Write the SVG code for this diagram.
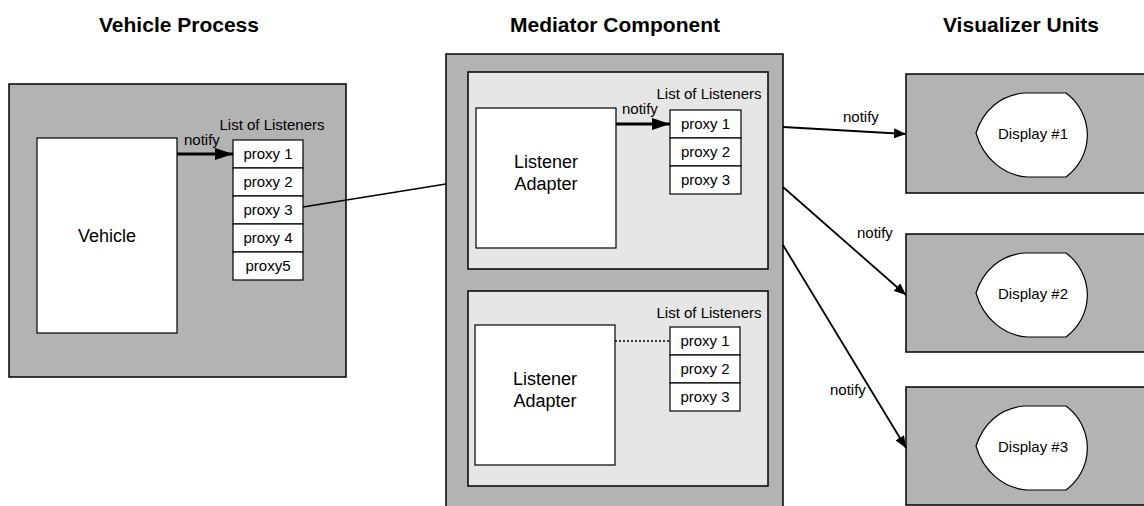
<svg xmlns="http://www.w3.org/2000/svg" width="1144" height="506" viewBox="0 0 1144 506">
<style>
.t{font-family:"Liberation Sans",Arial,sans-serif;fill:#000}
.title{font-size:21px;font-weight:bold;text-anchor:middle}
.s15{font-size:15px}
.s18{font-size:18px;text-anchor:middle}
.c{text-anchor:middle}
.outer{fill:#b3b3b3;stroke:#000;stroke-width:1.5}
.inner{fill:#e6e6e6;stroke:#000;stroke-width:1.5}
.white{fill:#fff;stroke:#000;stroke-width:1.2}
.ln{stroke:#000;fill:none}
</style>
<defs>
<marker id="ah" markerWidth="12" markerHeight="10" refX="12" refY="5" orient="auto" markerUnits="userSpaceOnUse"><path d="M0,0 L12,5 L0,10 Z" fill="#000"/></marker>
<marker id="ahb" markerWidth="18" markerHeight="12" refX="18" refY="6" orient="auto" markerUnits="userSpaceOnUse"><path d="M0,0 L18,6 L0,12 Z" fill="#000"/></marker>
<path id="disp" d="M-9,-40 L33,-40 A52,52 0 0 1 33,44 L-6,44 C-30,42 -50,25 -57,0 C-50,-22 -33,-38 -9,-40 Z"/>
</defs>

<text class="t title" x="179" y="32">Vehicle Process</text>
<text class="t title" x="615" y="32">Mediator Component</text>
<text class="t title" x="1021" y="32">Visualizer Units</text>

<g id="vehicle-process">
<rect class="outer" x="9" y="84" width="337" height="293"/>
<rect class="white" x="37" y="138" width="140" height="195"/>
<text class="t s18" x="107" y="242">Vehicle</text>
<text class="t s15 c" x="272" y="130">List of Listeners</text>
<g id="vp-proxies">
<rect class="white" x="233" y="140" width="70" height="28"/>
<rect class="white" x="233" y="168" width="70" height="28"/>
<rect class="white" x="233" y="196" width="70" height="28"/>
<rect class="white" x="233" y="224" width="70" height="28"/>
<rect class="white" x="233" y="252" width="70" height="28"/>
<text class="t s15 c" x="268" y="159">proxy 1</text>
<text class="t s15 c" x="268" y="187">proxy 2</text>
<text class="t s15 c" x="268" y="215">proxy 3</text>
<text class="t s15 c" x="268" y="243">proxy 4</text>
<text class="t s15 c" x="268" y="271">proxy5</text>
</g>
</g>

<g id="mediator">
<rect class="outer" x="446" y="54" width="337" height="460"/>
<g id="mediator-top">
<rect class="inner" x="468" y="72" width="300" height="197"/>
<rect class="white" x="476" y="108" width="140" height="140"/>
<text class="t s18" x="546" y="168">Listener</text>
<text class="t s18" x="546" y="190">Adapter</text>
<text class="t s15 c" x="709" y="99">List of Listeners</text>
<rect class="white" x="670" y="110" width="71" height="28"/>
<rect class="white" x="670" y="138" width="71" height="28"/>
<rect class="white" x="670" y="166" width="71" height="28"/>
<text class="t s15 c" x="705.5" y="129">proxy 1</text>
<text class="t s15 c" x="705.5" y="157">proxy 2</text>
<text class="t s15 c" x="705.5" y="185">proxy 3</text>
</g>
<g id="mediator-bottom">
<rect class="inner" x="468" y="291" width="300" height="195"/>
<rect class="white" x="475" y="325" width="140" height="140"/>
<text class="t s18" x="545" y="385">Listener</text>
<text class="t s18" x="545" y="407">Adapter</text>
<text class="t s15 c" x="709" y="318">List of Listeners</text>
<rect class="white" x="670" y="327" width="70" height="28"/>
<rect class="white" x="670" y="355" width="70" height="28"/>
<rect class="white" x="670" y="383" width="70" height="28"/>
<text class="t s15 c" x="705" y="346">proxy 1</text>
<text class="t s15 c" x="705" y="374">proxy 2</text>
<text class="t s15 c" x="705" y="402">proxy 3</text>
</g>
</g>

<g id="display1">
<rect class="outer" x="906" y="74" width="250" height="119"/>
<use href="#disp" x="1033" y="133" fill="#fff" stroke="#000" stroke-width="1.2"/>
<text class="t s15 c" x="1033" y="139">Display #1</text>
</g>
<g id="display2">
<rect class="outer" x="906" y="234" width="250" height="118"/>
<use href="#disp" x="1033" y="293" fill="#fff" stroke="#000" stroke-width="1.2"/>
<text class="t s15 c" x="1033" y="299">Display #2</text>
</g>
<g id="display3">
<rect class="outer" x="906" y="387" width="250" height="118"/>
<use href="#disp" x="1033" y="446" fill="#fff" stroke="#000" stroke-width="1.2"/>
<text class="t s15 c" x="1033" y="452">Display #3</text>
</g>

<g id="connectors">
<line class="ln" x1="177" y1="154" x2="233" y2="154" stroke-width="3" marker-end="url(#ahb)"/>
<text class="t s15" x="184" y="145">notify</text>
<line class="ln" x1="303" y1="207" x2="446" y2="184" stroke-width="1.5"/>
<line class="ln" x1="616" y1="124" x2="670" y2="124" stroke-width="3" marker-end="url(#ahb)"/>
<text class="t s15" x="622" y="114">notify</text>
<line class="ln" x1="615" y1="341" x2="670" y2="341" stroke-width="1.5" stroke-dasharray="2,2"/>
<line class="ln" x1="783" y1="127" x2="906" y2="134" stroke-width="1.8" marker-end="url(#ah)"/>
<text class="t s15" x="843" y="122">notify</text>
<line class="ln" x1="783" y1="187" x2="906" y2="295" stroke-width="1.8" marker-end="url(#ah)"/>
<text class="t s15" x="857" y="238">notify</text>
<line class="ln" x1="783" y1="245" x2="906" y2="448" stroke-width="1.8" marker-end="url(#ah)"/>
<text class="t s15" x="830" y="395">notify</text>
</g>
</svg>
